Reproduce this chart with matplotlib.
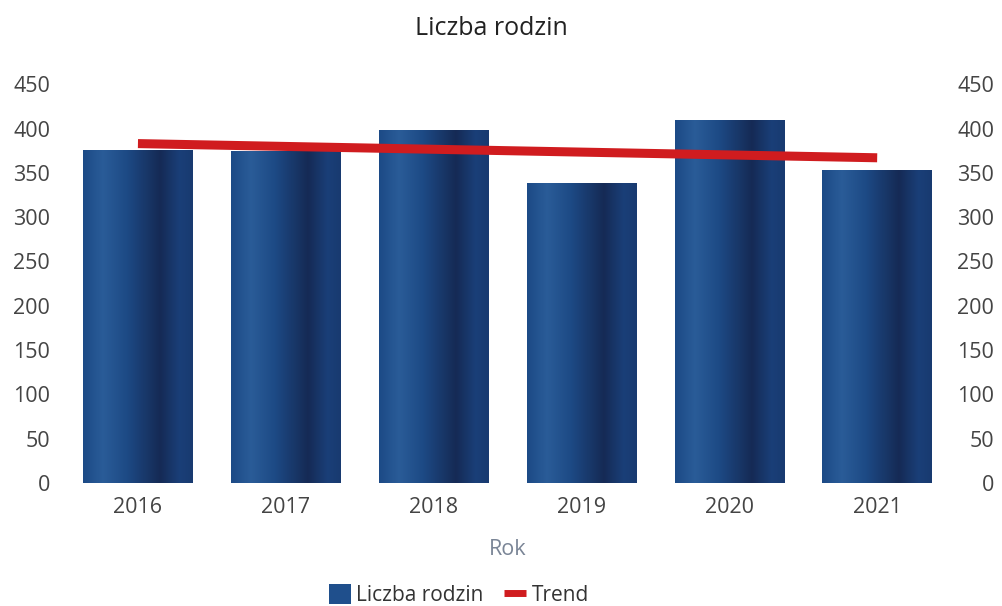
import matplotlib
matplotlib.use("Agg")
import matplotlib.pyplot as plt
import numpy as np
from matplotlib.colors import LinearSegmentedColormap
from matplotlib.patches import Patch
from matplotlib.lines import Line2D

years = ["2016", "2017", "2018", "2019", "2020", "2021"]
families = [376, 375, 398, 338, 410, 353]
trend_ends = [383, 367]  # trend at first and last year
yticks = [0, 50, 100, 150, 200, 250, 300, 350, 400, 450]

plt.rcParams['font.family'] = ['Open Sans', 'DejaVu Sans']

fig = plt.figure(figsize=(10.02, 6.06), dpi=100)
ax = fig.add_axes([0.0639, 0.203, 0.8853, 0.658])

x = np.arange(len(years))
width = 0.74
bars = ax.bar(x, families, width=width, color="#1c4580", zorder=2)

cmap = LinearSegmentedColormap.from_list(
    "cyl", [(0.0, "#1c4a86"), (0.18, "#2a5c98"), (0.4, "#1d4a85"),
            (0.7, "#152a55"), (0.88, "#1a3f78"), (1.0, "#183a70")])
grad = np.linspace(0, 1, 256).reshape(1, -1)
for b in bars:
    x0, w, h = b.get_x(), b.get_width(), b.get_height()
    im = ax.imshow(grad, cmap=cmap, aspect="auto",
                   extent=[x0, x0 + w, 0, h], zorder=3)
    im.set_clip_path(b)

ax.plot([x[0], x[-1]], trend_ends, color="#d01c1f", linewidth=6.5,
        solid_capstyle="butt", zorder=5)

ax.set_xlim(-0.5, len(years) - 0.5)
ax.set_ylim(0, 450)
ax.set_xticks(x)
ax.set_xticklabels(years, fontsize=15.5, color="#444444")
ax.set_yticks(yticks)
ax.set_yticklabels([str(v) for v in yticks], fontsize=15.5, color="#444444")
ax.tick_params(axis="both", length=0)
ax.tick_params(axis="x", pad=10)
ax.tick_params(axis="y", pad=10)
for s in ax.spines.values():
    s.set_visible(False)

ax2 = ax.twinx()
ax2.set_ylim(0, 450)
ax2.set_yticks(yticks)
ax2.set_yticklabels([str(v) for v in yticks], fontsize=15.5, color="#444444")
ax2.tick_params(axis="y", length=0, pad=31)
for lab in ax2.get_yticklabels():
    lab.set_horizontalalignment("right")
for s in ax2.spines.values():
    s.set_visible(False)

ax.set_xlabel("Rok", fontsize=15.5, color="#7a8596", labelpad=15)
fig.text(0.49, 0.953, "Liczba rodzin", ha="center", va="center",
         fontsize=18, color="#222222")

handles = [Patch(facecolor="#1f4f8c", edgecolor="none", label="Liczba rodzin"),
           Line2D([0], [0], color="#d01c1f", linewidth=5,
                  solid_capstyle="butt", label="Trend")]
fig.legend(handles=handles, loc="center", bbox_to_anchor=(0.458, 0.018),
           ncol=2, frameon=False, fontsize=15, handlelength=1.05,
           handleheight=1.1, handletextpad=0.25, columnspacing=1.0,
           labelcolor="#333333")

fig.savefig("out.png", dpi=100)
